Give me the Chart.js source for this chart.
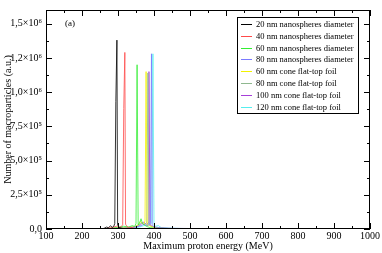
<!DOCTYPE html>
<html>
<head>
<meta charset="utf-8">
<script src="https://cdn.jsdelivr.net/npm/chart.js@4.4.1/dist/chart.umd.min.js"></script>
<style>
  html, body { margin: 0; padding: 0; background: #fff; }
  #wrap { width: 382px; height: 253px; position: relative; }
</style>
</head>
<body>
<div id="wrap"><canvas id="mainChart"></canvas></div>
<script>
const nomes = [
    '20 nm nanospheres diameter',
    '40 nm nanospheres diameter',
    '60 nm nanospheres diameter',
    '80 nm nanospheres diameter',
    '60 nm cone flat-top foil',
    '80 nm cone flat-top foil',
    '100 nm cone flat-top foil',
    '120 nm cone flat-top foil'
];
const cores = ['#000000', '#ff4a4a', '#33ee33', '#7a7aff', '#f2f200', '#8fb88f', '#a640d8', '#55eeee'];

// energia (MeV) e numero de macroparticulas para cada serie
const e20 = [100, 255, 262, 268, 274, 279, 284, 288, 291, 294, 297, 299, 303, 308, 314, 320, 330, 1000];
const n20 = [0, 0, 6000, 14000, 9000, 24000, 12000, 18000, 40000, 930000, 1380000, 30000, 12000, 8000, 4000, 2000, 0, 0];
const e40 = [100, 262, 270, 280, 288, 296, 302, 308, 313, 316, 319, 321, 325, 330, 336, 345, 360, 1000];
const n40 = [0, 0, 5000, 9000, 14000, 20000, 10000, 16000, 30000, 880000, 1290000, 35000, 18000, 9000, 12000, 5000, 0, 0];
const e60 = [100, 270, 285, 300, 315, 330, 340, 346, 350, 353, 356, 360, 364, 368, 373, 380, 390, 400, 420, 1000];
const n60 = [0, 0, 8000, 12000, 20000, 15000, 25000, 18000, 40000, 1200000, 30000, 45000, 75000, 40000, 30000, 18000, 10000, 5000, 0, 0];
const e80 = [100, 300, 320, 340, 360, 372, 380, 386, 390, 393, 395, 400, 410, 420, 440, 480, 520, 560, 650, 660, 680, 690, 1000];
const n80 = [0, 0, 6000, 12000, 20000, 35000, 25000, 30000, 45000, 1280000, 30000, 15000, 12000, 8000, 5000, 4000, 3000, 0, 0, 3000, 0, 2000, 0];
const e60c = [100, 290, 310, 330, 345, 355, 362, 368, 372, 375, 378, 381, 386, 392, 400, 412, 430, 460, 1000];
const n60c = [0, 0, 5000, 10000, 16000, 25000, 55000, 40000, 30000, 60000, 1150000, 25000, 30000, 18000, 12000, 8000, 4000, 0, 0];
const e80c = [100, 285, 305, 325, 345, 358, 366, 372, 377, 380, 383, 386, 392, 400, 410, 425, 450, 500, 540, 1000];
const n80c = [0, 0, 7000, 12000, 18000, 30000, 45000, 35000, 40000, 50000, 1140000, 30000, 20000, 14000, 9000, 6000, 4000, 2000, 0, 0];
const e100 = [100, 295, 315, 335, 350, 362, 370, 376, 380, 384, 386, 389, 395, 402, 412, 430, 460, 520, 560, 1000];
const n100 = [0, 0, 6000, 10000, 15000, 30000, 50000, 40000, 35000, 45000, 1150000, 30000, 20000, 12000, 8000, 5000, 3000, 2000, 0, 0];
const e120 = [100, 300, 325, 345, 360, 372, 380, 386, 390, 394, 397, 400, 405, 412, 420, 440, 470, 510, 550, 1000];
const n120 = [0, 0, 5000, 9000, 15000, 25000, 30000, 40000, 35000, 45000, 1280000, 25000, 20000, 25000, 10000, 6000, 4000, 2000, 0, 0];

const energias = [e20, e40, e60, e80, e60c, e80c, e100, e120];
const contagens = [n20, n40, n60, n80, n60c, n80c, n100, n120];

const xTicks = [100, 200, 300, 400, 500, 600, 700, 800, 900, 1000];
const yTicks = [0, 250000, 500000, 750000, 1000000, 1250000, 1500000];
const yLabels = ['0,0', '2,5×10⁵', '5,0×10⁵', '7,5×10⁵', '1,0×10⁶', '1,2×10⁶', '1,5×10⁶'];

const fonte = 'Liberation Serif, Times New Roman, serif';

const datasets = nomes.map((nome, i) => ({
    label: nome,
    data: energias[i].map((e, j) => ({ x: e, y: contagens[i][j] })),
    borderColor: cores[i],
    backgroundColor: cores[i],
    borderWidth: 0.8,
    pointRadius: 0,
    tension: 0,
    fill: false
}));

// moldura, ticks para dentro e legenda no estilo xmgrace
const moldura = {
    id: 'moldura',
    afterDatasetsDraw(chart) {
        const { ctx, chartArea: a, scales: { x, y } } = chart;
        ctx.save();
        ctx.strokeStyle = '#000';
        ctx.lineWidth = 1;
        ctx.strokeRect(a.left + 0.5, a.top + 0.5, a.right - a.left - 1, a.bottom - a.top - 1);
        ctx.beginPath();
        for (let v = 100; v <= 1000; v += 50) {
            const len = v % 100 === 0 ? 6 : 3;
            const px = Math.round(x.getPixelForValue(v)) + 0.5;
            ctx.moveTo(px, a.bottom); ctx.lineTo(px, a.bottom - len);
            ctx.moveTo(px, a.top); ctx.lineTo(px, a.top + len);
        }
        for (let v = 0; v <= 1600000; v += 125000) {
            const len = v % 250000 === 0 ? 6 : 3;
            const py = Math.round(y.getPixelForValue(v)) + 0.5;
            ctx.moveTo(a.left, py); ctx.lineTo(a.left + len, py);
            ctx.moveTo(a.right, py); ctx.lineTo(a.right - len, py);
        }
        ctx.stroke();

        // rotulo (a)
        ctx.fillStyle = '#000';
        ctx.font = '9px ' + fonte;
        ctx.textBaseline = 'middle';
        ctx.fillText('(a)', 65, 24);

        // legenda
        const bx = 237, by = 17, bw = 121, bh = 96;
        ctx.font = '8.5px ' + fonte;
        ctx.fillStyle = '#fff';
        ctx.fillRect(bx, by, bw, bh);
        ctx.strokeRect(bx + 0.5, by + 0.5, bw, bh);
        chart.data.datasets.forEach((ds, i) => {
            const ly = Math.round(by + 7 + i * 11.8) + 0.5;
            ctx.strokeStyle = ds.borderColor;
            ctx.lineWidth = 1;
            ctx.beginPath();
            ctx.moveTo(bx + 4, ly); ctx.lineTo(bx + 15, ly);
            ctx.stroke();
            ctx.fillStyle = '#000';
            ctx.fillText(ds.label, bx + 19, ly);
        });
        ctx.restore();
    }
};

const ctx = document.getElementById('mainChart').getContext('2d');
const chart = new Chart(ctx, {
    type: 'line',
    data: { datasets: datasets },
    options: {
        responsive: true,
        maintainAspectRatio: false,
        animation: false,
        layout: { padding: { left: 0, right: 12, top: 3, bottom: 0 } },
        scales: {
            x: {
                type: 'linear',
                min: 100,
                max: 1000,
                afterBuildTicks: s => { s.ticks = xTicks.map(v => ({ value: v })); },
                afterFit: s => { s.height = 24; },
                grid: { display: false, drawTicks: false },
                border: { display: false },
                ticks: {
                    color: '#000',
                    padding: 1,
                    font: { family: fonte, size: 10 },
                    maxRotation: 0,
                    callback: v => String(v)
                },
                title: {
                    display: true,
                    text: 'Maximum proton energy (MeV)',
                    color: '#000',
                    font: { family: fonte, size: 10 },
                    padding: { top: 0, bottom: 1 }
                }
            },
            y: {
                min: 0,
                max: 1600000,
                afterBuildTicks: s => { s.ticks = yTicks.map(v => ({ value: v })); },
                afterFit: s => { s.width = 46; },
                grid: { display: false, drawTicks: false },
                border: { display: false },
                ticks: {
                    color: '#000',
                    padding: 4,
                    font: { family: fonte, size: 10 },
                    callback: v => yLabels[yTicks.indexOf(v)]
                },
                title: {
                    display: true,
                    text: 'Number of macroparticles (a.u.)',
                    color: '#000',
                    font: { family: fonte, size: 10 },
                    padding: { top: 2, bottom: 0 }
                }
            }
        },
        plugins: {
            legend: { display: false },
            tooltip: { enabled: false }
        }
    },
    plugins: [moldura]
});
</script>
</body>
</html>
